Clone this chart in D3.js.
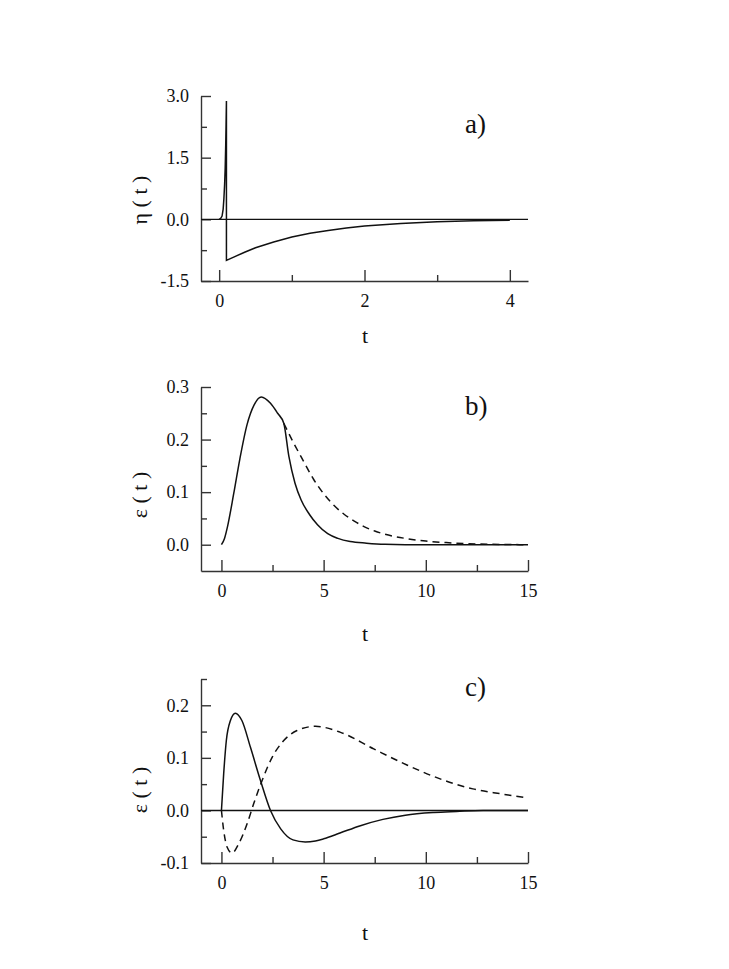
<!DOCTYPE html>
<html>
<head>
<meta charset="utf-8">
<script src="https://cdn.jsdelivr.net/npm/d3@7"></script>
<style>
  body { margin: 0; background: #fff; }
  svg text { font-family: "Liberation Serif", "Times New Roman", "DejaVu Serif", serif; fill: #111; }
</style>
</head>
<body>
<svg id="chart" width="729" height="969"></svg>
<script>
// panel a) eta(t)
var etaT = [0, 0.02, 0.04, 0.055, 0.065, 0.075, 0.083, 0.09, 0.095, 0.1, 0.1, 0.2, 0.35, 0.5, 0.75, 1.0, 1.25, 1.5, 1.75, 2.0, 2.5, 3.0, 3.5, 4.0];
var etaV = [0, 0.02, 0.08, 0.25, 0.5, 0.85, 1.25, 1.8, 2.3, 2.88, -1.0, -0.92, -0.8, -0.69, -0.55, -0.43, -0.34, -0.27, -0.21, -0.16, -0.1, -0.06, -0.035, -0.02];

// panel b) eps(t), solid and dashed (dashed leaves the solid at t = 3.05)
var bSolidT = [0, 0.15, 0.3, 0.6, 0.9, 1.25, 1.6, 1.95, 2.4, 2.75, 3.05, 3.3, 3.6, 3.9, 4.3, 4.7, 5.2, 5.7, 6.3, 7.1, 8, 10, 15];
var bSolidV = [0, 0.012, 0.035, 0.097, 0.163, 0.228, 0.266, 0.281, 0.269, 0.25, 0.231, 0.168, 0.117, 0.085, 0.058, 0.038, 0.021, 0.012, 0.006, 0.003, 0.001, 0, 0];
var bDashT = [3.05, 3.5, 4.0, 4.5, 5.0, 5.5, 6.0, 6.5, 7.0, 7.5, 8.0, 9.0, 10, 11, 12, 13, 15];
var bDashV = [0.231, 0.196, 0.16, 0.125, 0.097, 0.075, 0.058, 0.045, 0.034, 0.026, 0.02, 0.012, 0.007, 0.004, 0.002, 0.001, 0];

// panel c) eps(t), solid and dashed
var cSolidT = [0, 0.11, 0.24, 0.44, 0.68, 1.0, 1.42, 1.91, 2.4, 2.9, 3.5, 4.1, 4.6, 5.0, 5.8, 6.8, 7.9, 9, 10.4, 11.5, 12.8, 15];
var cSolidV = [0, 0.07, 0.133, 0.171, 0.185, 0.171, 0.12, 0.057, 0, -0.035, -0.056, -0.06, -0.058, -0.054, -0.043, -0.029, -0.017, -0.009, -0.004, -0.002, 0, 0];
var cDashT = [0, 0.11, 0.28, 0.52, 0.85, 1.26, 1.58, 1.99, 2.48, 3.05, 3.7, 4.6, 5.8, 7.45, 9.1, 10.7, 12.3, 13.6, 15];
var cDashV = [0, -0.038, -0.07, -0.081, -0.063, -0.025, 0.013, 0.057, 0.101, 0.133, 0.152, 0.16, 0.149, 0.117, 0.086, 0.06, 0.041, 0.032, 0.024];

// tick values
var aXMajor = [0, 2, 4], aXMinor = [1, 3];
var aYMajor = [-1.5, 0, 1.5, 3], aYMinor = [-0.75, 0.75, 2.25];
var bcXMajor = [0, 5, 10, 15], bcXMinor = [2.5, 7.5, 12.5];
var bYMajor = [0, 0.1, 0.2, 0.3], bYMinor = [0.05, 0.15, 0.25];
var cYMajor = [-0.1, 0, 0.1, 0.2], cYMinor = [-0.05, 0.05, 0.15, 0.25];

var svg = d3.select('#chart');

function zip(ts, vs) {
  return ts.map(function(t, i) { return [t, vs[i]]; });
}

// one decimal, plain hyphen for negatives like the original
function fmt1(d) { return d.toFixed(1); }

function drawPanel(p) {
  var x = d3.scaleLinear().domain(p.xDomain).range([201, 528]);
  var y = d3.scaleLinear().domain(p.yDomain).range([p.bottom, p.top]);
  var g = svg.append('g');

  // x axis, ticks pointing inward
  g.append('g').attr('transform', 'translate(0,' + p.bottom + ')')
    .call(d3.axisBottom(x).tickValues(p.xMajor).tickSize(-11).tickSizeOuter(0)
      .tickPadding(13).tickFormat(function(d) { return String(d); }));
  g.append('g').attr('transform', 'translate(0,' + p.bottom + ')')
    .call(d3.axisBottom(x).tickValues(p.xMinor).tickSize(-6).tickSizeOuter(0).tickFormat(''))
    .select('.domain').remove();

  g.append('g').attr('transform', 'translate(201,0)')
    .call(d3.axisLeft(y).tickValues(p.yMajor).tickSize(-10).tickSizeOuter(0)
      .tickPadding(12).tickFormat(fmt1));
  g.append('g').attr('transform', 'translate(201,0)')
    .call(d3.axisLeft(y).tickValues(p.yMinor).tickSize(-6).tickSizeOuter(0).tickFormat(''))
    .select('.domain').remove();

  g.selectAll('.domain, .tick line').attr('stroke', '#333').attr('stroke-width', 1.4);
  g.selectAll('.tick text').attr('font-size', 18).attr('fill', '#111');

  if (p.zeroLine) {
    g.append('line').attr('x1', 201).attr('x2', 528)
      .attr('y1', y(0)).attr('y2', y(0))
      .attr('stroke', '#111').attr('stroke-width', 1.4);
  }

  p.series.forEach(function(s) {
    var line = d3.line()
      .x(function(d) { return x(d[0]); })
      .y(function(d) { return y(d[1]); })
      .curve(s.curve || d3.curveMonotoneX);
    g.append('path').datum(zip(s.t, s.v))
      .attr('d', line)
      .attr('fill', 'none')
      .attr('stroke', '#111')
      .attr('stroke-width', 1.5)
      .attr('stroke-dasharray', s.dashed ? '7,5' : null);
  });

  // axis titles and panel tag
  g.append('text').attr('x', 365).attr('y', p.xTitleY)
    .attr('text-anchor', 'middle').attr('font-size', 22).text('t');
  g.append('text')
    .attr('transform', 'translate(147,' + p.yTitleY + ') rotate(-90)')
    .attr('text-anchor', 'middle').attr('font-size', 22).text(p.yTitle);
  g.append('text').attr('x', 465).attr('y', p.tagY)
    .attr('font-size', 27).text(p.tag);
}

drawPanel({
  top: 96, bottom: 281, xDomain: [-0.25, 4.25], yDomain: [-1.5, 3],
  xMajor: aXMajor, xMinor: aXMinor, yMajor: aYMajor, yMinor: aYMinor,
  zeroLine: true, xTitleY: 343, yTitleY: 200, yTitle: '\u03b7 ( t )', tag: 'a)', tagY: 133,
  series: [{ t: etaT, v: etaV, curve: d3.curveLinear }]
});

drawPanel({
  top: 387, bottom: 571, xDomain: [-1, 15], yDomain: [-0.05, 0.3],
  xMajor: bcXMajor, xMinor: bcXMinor, yMajor: bYMajor, yMinor: bYMinor,
  zeroLine: false, xTitleY: 641, yTitleY: 495, yTitle: '\u03b5 ( t )', tag: 'b)', tagY: 415,
  series: [{ t: bSolidT, v: bSolidV }, { t: bDashT, v: bDashV, dashed: true }]
});

drawPanel({
  top: 679, bottom: 863, xDomain: [-1, 15], yDomain: [-0.1, 0.25],
  xMajor: bcXMajor, xMinor: bcXMinor, yMajor: cYMajor, yMinor: cYMinor,
  zeroLine: true, xTitleY: 940, yTitleY: 790, yTitle: '\u03b5 ( t )', tag: 'c)', tagY: 696,
  series: [{ t: cSolidT, v: cSolidV }, { t: cDashT, v: cDashV, dashed: true }]
});
</script>
</body>
</html>
